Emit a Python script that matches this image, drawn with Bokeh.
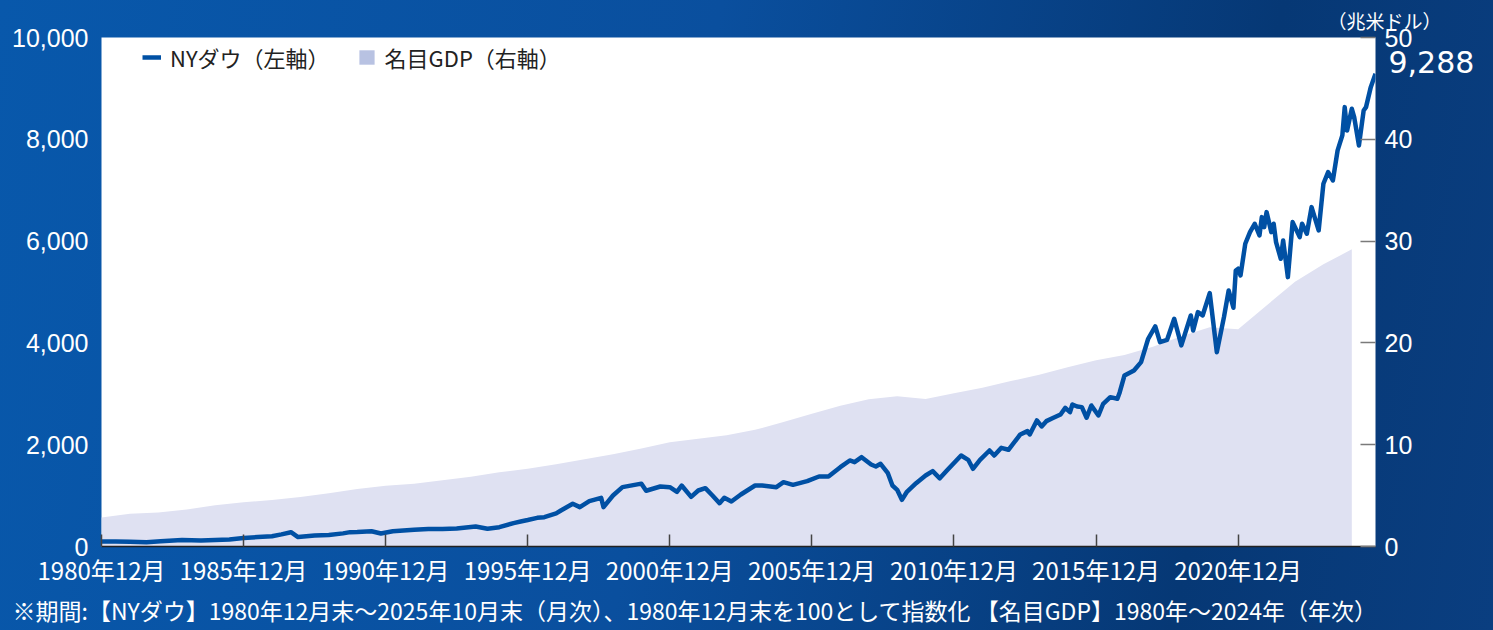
from bokeh.plotting import figure
from bokeh.models import (Range1d, LinearAxis, FixedTicker, Legend, LegendItem, Title,
                          NumeralTickFormatter, ColumnDataSource)
from bokeh.embed import file_html
from bokeh.resources import INLINE

# ---------------- data ----------------
dow_months = ["1980-12","1981-06","1981-12","1982-07","1983-01","1983-10","1984-06","1984-12","1985-06","1985-12",
              "1986-06","1986-12","1987-04","1987-08","1987-11","1988-06","1988-12","1989-06","1989-09","1989-12",
              "1990-06","1990-10","1991-03","1991-12","1992-06","1992-12","1993-06","1993-12","1994-02","1994-07",
              "1994-12","1995-06","1995-09","1995-12","1996-04","1996-07","1996-12","1997-02","1997-07","1997-10",
              "1998-02","1998-07","1998-08","1998-12","1999-04","1999-12","2000-02","2000-08","2000-12","2001-03",
              "2001-05","2001-09","2001-12","2002-03","2002-06","2002-09","2002-11","2003-02","2003-06","2003-12",
              "2004-03","2004-09","2004-12","2005-04","2005-10","2006-03","2006-07","2006-12","2007-04","2007-06",
              "2007-09","2008-01","2008-03","2008-05","2008-08","2008-10","2008-12","2009-02","2009-04","2009-08",
              "2009-12","2010-03","2010-06","2010-09","2011-03","2011-06","2011-08","2011-11","2012-03","2012-05",
              "2012-08","2012-11","2013-04","2013-07","2013-08","2013-11","2014-01","2014-03","2014-06","2014-09",
              "2014-11","2015-01","2015-02","2015-04","2015-06","2015-08","2015-10","2016-01","2016-03","2016-06",
              "2016-09","2016-10","2016-12","2017-04","2017-07","2017-10","2018-01","2018-03","2018-06","2018-09",
              "2018-12","2019-04","2019-05","2019-07","2019-09","2019-12","2020-03","2020-06","2020-08","2020-10",
              "2020-11","2020-12","2021-01","2021-03","2021-05","2021-07","2021-09","2021-10","2021-11","2021-12",
              "2022-02","2022-03","2022-04","2022-06","2022-07","2022-09","2022-11","2022-12","2023-02","2023-03",
              "2023-05","2023-07","2023-10","2023-12","2024-02","2024-04","2024-06","2024-08","2024-09","2024-10",
              "2024-12","2025-01","2025-03","2025-05","2025-06","2025-08","2025-10"]
dow_values = [100, 98, 91, 83, 104, 128, 118, 126, 136, 165,
              185, 200, 238, 281, 185, 214, 224, 258, 282, 285,
              300, 255, 300, 328, 342, 343, 355, 385, 393, 350,
              380, 460, 491, 520, 563, 576, 650, 707, 839, 773,
              891, 956, 773, 1002, 1166, 1235, 1095, 1179, 1166, 1075,
              1198, 975, 1100, 1146, 1002, 851, 956, 884, 1022, 1198,
              1198, 1166, 1264, 1212, 1284, 1375, 1375, 1559, 1690, 1657,
              1755, 1611, 1572, 1625, 1448, 1198, 1114, 917, 1067, 1244,
              1395, 1480, 1340, 1493, 1788, 1703, 1526, 1703, 1886, 1788,
              1939, 1900, 2201, 2266, 2201, 2476, 2358, 2463, 2529, 2594,
              2725, 2640, 2790, 2751, 2738, 2529, 2771, 2574, 2804, 2934,
              2902, 3032, 3360, 3458, 3622, 4081, 4323, 4015, 4061, 4474,
              3950, 4539, 4244, 4604, 4539, 4978, 3818, 4506, 5030, 4690,
              5423, 5457, 5325, 5948, 6176, 6341, 6111, 6471, 6274, 6569,
              6176, 6341, 5980, 5653, 6013, 5292, 6373, 6274, 6078, 6341,
              6144, 6667, 6209, 7127, 7355, 7192, 7781, 8076, 8632, 8174,
              8600, 8436, 7880, 8567, 8632, 9025, 9288]

gdp_years = list(range(1980, 2025))
gdp_values = [2.86, 3.21, 3.34, 3.63, 4.04, 4.34, 4.58, 4.86, 5.24, 5.64,
              5.96, 6.16, 6.52, 6.86, 7.29, 7.64, 8.07, 8.58, 9.06, 9.63,
              10.25, 10.58, 10.93, 11.46, 12.22, 13.04, 13.82, 14.47, 14.77, 14.48,
              15.05, 15.60, 16.25, 16.88, 17.61, 18.30, 18.81, 19.61, 20.66, 21.54,
              21.35, 23.68, 26.01, 27.72, 29.19]

x_tick_years = [1980, 1985, 1990, 1995, 2000, 2005, 2010, 2015, 2020]
x_tick_labels = ["1980年12月", "1985年12月", "1990年12月", "1995年12月", "2000年12月",
                 "2005年12月", "2010年12月", "2015年12月", "2020年12月"]
left_ticks = [0, 2000, 4000, 6000, 8000, 10000]
right_ticks = [0, 10, 20, 30, 40, 50]

legend_dow = "NYダウ（左軸）"
legend_gdp = "名目GDP（右軸）"
unit_label = "（兆米ドル）"
footnote = "※期間:【NYダウ】1980年12月末～2025年10月末（月次）、1980年12月末を100として指数化 【名目GDP】1980年～2024年（年次）"

# month index relative to 1980-12
def midx(s):
    y, m = s.split("-")
    return (int(y) - 1980) * 12 + (int(m) - 12)

dow_x = [midx(s) for s in dow_months]
gdp_x = [(y - 1980) * 12 for y in gdp_years]
tick_x = [(y - 1980) * 12 for y in x_tick_years]
last_text = f"{dow_values[-1]:,}"

JP = "Noto Sans CJK JP"
NUM = "Liberation Sans"

# ---------------- figure ----------------
p = figure(width=1493, height=630, output_backend="svg", toolbar_location=None,
           x_range=Range1d(0, dow_x[-1]), y_range=Range1d(0, 10000),
           min_border_left=101, min_border_right=118, min_border_top=37, min_border_bottom=84)
p.extra_y_ranges = {"gdp": Range1d(0, 50)}
p.background_fill_color = "white"
p.border_fill_color = None
p.outline_line_color = None
p.styles = {"background": "linear-gradient(100deg, #0858ab 0%, #0a4f9e 45%, #063875 80%, #0a3e80 100%)"}
p.grid.visible = False

gdp_src = ColumnDataSource(dict(x=gdp_x, y=gdp_values))
dow_src = ColumnDataSource(dict(x=dow_x, y=dow_values))

area = p.varea(x="x", y1=0, y2="y", source=gdp_src, y_range_name="gdp",
               fill_color="#dfe1f2", fill_alpha=1.0)
# zero-height twin of the area, only used for its legend swatch colour
swatch = p.varea(x="x", y1=0, y2=0, source=gdp_src, y_range_name="gdp",
                 fill_color="#b8c2e2", fill_alpha=1.0)
line = p.line(x="x", y="y", source=dow_src, line_color="#0050a4", line_width=4.5,
              line_join="round")

# title above = unit label
p.title.text = unit_label
p.title.align = "right"
p.title.offset = -66
p.title.text_color = "white"
p.title.text_font = JP
p.title.text_font_size = "19px"
p.title.text_font_style = "normal"
p.title.standoff = 7

# left axis
yax = p.yaxis[0]
yax.ticker = FixedTicker(ticks=left_ticks)
yax.formatter = NumeralTickFormatter(format="0,0")
yax.axis_line_color = None
yax.major_tick_line_color = None
yax.minor_tick_line_color = None
yax.major_label_text_color = "white"
yax.major_label_text_font = NUM
yax.major_label_text_font_size = "25px"
yax.major_label_standoff = 7

# right axis
rax = LinearAxis(y_range_name="gdp", ticker=FixedTicker(ticks=right_ticks))
rax.axis_line_color = None
rax.major_tick_in = 15
rax.major_tick_out = 0
rax.major_tick_line_color = "#7a7a7a"
rax.major_tick_line_width = 1.5
rax.minor_tick_line_color = None
rax.major_label_text_color = "white"
rax.major_label_text_font = NUM
rax.major_label_text_font_size = "25px"
rax.major_label_standoff = 9
p.add_layout(rax, "right")

# second right axis carrying only the latest value label
last_pos = dow_values[-1] / 10000 * 50 + 1.2
lax = LinearAxis(y_range_name="gdp", ticker=FixedTicker(ticks=[last_pos]))
lax.major_label_overrides = {last_pos: last_text}
lax.axis_line_color = None
lax.major_tick_line_color = None
lax.minor_tick_line_color = None
lax.major_label_text_color = "white"
lax.major_label_text_font = "DejaVu Sans"
lax.major_label_text_font_size = "30px"
lax.major_label_standoff = -33
p.add_layout(lax, "right")

# x axis
xax = p.xaxis[0]
xax.ticker = FixedTicker(ticks=tick_x)
xax.major_label_overrides = {t: lab for t, lab in zip(tick_x, x_tick_labels)}
xax.axis_line_color = "#222222"
xax.axis_line_width = 1.5
xax.major_tick_in = 12
xax.major_tick_out = 0
xax.major_tick_line_color = "#444444"
xax.major_tick_line_width = 1.5
xax.minor_tick_line_color = None
xax.major_label_text_color = "white"
xax.major_label_text_font = JP
xax.major_label_text_font_size = "24px"
xax.major_label_standoff = 5

# footnote below
p.add_layout(Title(text=footnote, align="left", offset=-89, text_color="white",
                   text_font=JP, text_font_size="23px", text_font_style="normal",
                   standoff=2), "below")

# legend
legend = Legend(items=[LegendItem(label=legend_dow, renderers=[line]),
                       LegendItem(label=legend_gdp, renderers=[swatch])],
                orientation="horizontal",
                background_fill_alpha=0, border_line_color=None,
                label_text_font=JP, label_text_font_size="22px", label_text_color="#222222",
                glyph_width=19, glyph_height=18, label_standoff=9, spacing=27,
                padding=5, margin=0)
legend.location = (41, 473)
p.add_layout(legend)

open("out.html", "w").write(file_html(p, INLINE))
